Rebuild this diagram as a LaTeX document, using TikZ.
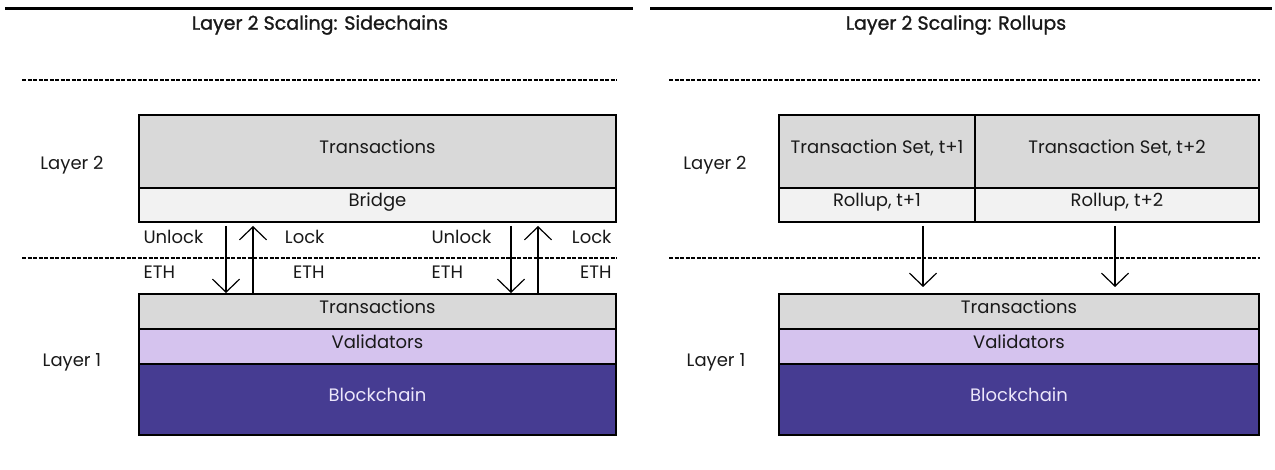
\documentclass[tikz,border=0pt]{standalone}
\usepackage{fontspec}
\setmainfont{Poppins}
\newfontfamily\headfont[FakeBold=1.2]{Poppins}
\usetikzlibrary{arrows.meta}

\definecolor{txgray}{HTML}{D9D9D9}
\definecolor{bridgegray}{HTML}{F2F2F2}
\definecolor{validlav}{HTML}{D5C3EE}
\definecolor{chainblue}{HTML}{463C92}
\definecolor{chaintext}{HTML}{ECE6FA}

\tikzset{
  every node/.style={font=\fontsize{18}{21}\selectfont, text=black!90},
  block/.style={draw=black, line width=2pt, inner sep=0pt, anchor=north west,
    text height=13pt, text depth=9pt},
  heading/.style={font=\headfont\fontsize{19}{22}\selectfont},
  rule/.style={line width=3pt},
  layersep/.style={line width=1.5pt, dash pattern=on 4pt off 1.5pt},
  flow/.style={line width=1.2pt, -{Straight Barb[length=13pt,width=27pt,line width=1.2pt]}},
}

\begin{document}
\begin{tikzpicture}[x=1pt, y=-1pt]
\useasboundingbox (0,0) rectangle (1275,470);

% sidechains
\draw[rule] (5,9) -- (633,9);
\node[heading] (titleS) at (320,25) {Layer 2 Scaling: Sidechains};
\draw[layersep] (22,80) -- (617,80);
\draw[layersep] (22,258) -- (617,258);
\node (l2S) at (72,165) {Layer 2};
\node (l1S) at (72,362) {Layer 1};

\node[block, fill=txgray, minimum width=477pt, minimum height=73pt] (txS) at (138,114) {Transactions};
\node[block, fill=bridgegray, minimum width=477pt, minimum height=34pt] (bridge) at (138,187) {Bridge};

\node[block, fill=txgray, minimum width=477pt, minimum height=35pt] (baseS) at (138,293) {Transactions};
\node[block, fill=validlav, minimum width=477pt, minimum height=35pt] (valS) at (138,328) {Validators};
\node[block, fill=chainblue, minimum width=477pt, minimum height=71pt, text=chaintext] (chainS) at (138,363) {Blockchain};

\foreach \x [count=\i] in {226,511} {
  \coordinate (dn\i) at (\x,226);
  \draw[flow] (dn\i) -- (dn\i |- baseS.north);
}
\foreach \x [count=\i] in {253,538} {
  \coordinate (up\i) at (\x,226);
  \draw[flow] (up\i |- baseS.north) -- (up\i);
}

\node[anchor=west] (unlock1) at (140,237) {Unlock};
\node[anchor=east] (lock1) at (328,237) {Lock};
\node[anchor=west] (unlock2) at (428,237) {Unlock};
\node[anchor=east] (lock2) at (615,237) {Lock};
\node[anchor=west] (eth1) at (140,272) {ETH};
\node[anchor=east] (eth2) at (328,272) {ETH};
\node[anchor=west] (eth3) at (428,272) {ETH};
\node[anchor=east] (eth4) at (615,272) {ETH};

% rollups
\draw[rule] (650,9) -- (1272,9);
\node[heading] (titleR) at (956,25) {Layer 2 Scaling: Rollups};
\draw[layersep] (669,80) -- (1260,80);
\draw[layersep] (669,258) -- (1260,258);
\node (l2R) at (715,165) {Layer 2};
\node (l1R) at (716,362) {Layer 1};

\node[block, fill=txgray, minimum width=196pt, minimum height=73pt] (set1) at (778,114) {Transaction Set, t+1};
\node[block, fill=txgray, minimum width=284pt, minimum height=73pt] (set2) at (974,114) {Transaction Set, t+2};
\node[block, fill=bridgegray, minimum width=196pt, minimum height=34pt] (roll1) at (778,187) {Rollup, t+1};
\node[block, fill=bridgegray, minimum width=284pt, minimum height=34pt] (roll2) at (974,187) {Rollup, t+2};

\node[block, fill=txgray, minimum width=480pt, minimum height=35pt] (baseR) at (778,293) {Transactions};
\node[block, fill=validlav, minimum width=480pt, minimum height=35pt] (valR) at (778,328) {Validators};
\node[block, fill=chainblue, minimum width=480pt, minimum height=71pt, text=chaintext] (chainR) at (778,363) {Blockchain};

\foreach \x [count=\i] in {923,1115} {
  \coordinate (rs\i) at (\x,226);
  \coordinate (re\i) at (\x,287);
  \draw[flow] (rs\i) -- (re\i);
}
\end{tikzpicture}
\end{document}
